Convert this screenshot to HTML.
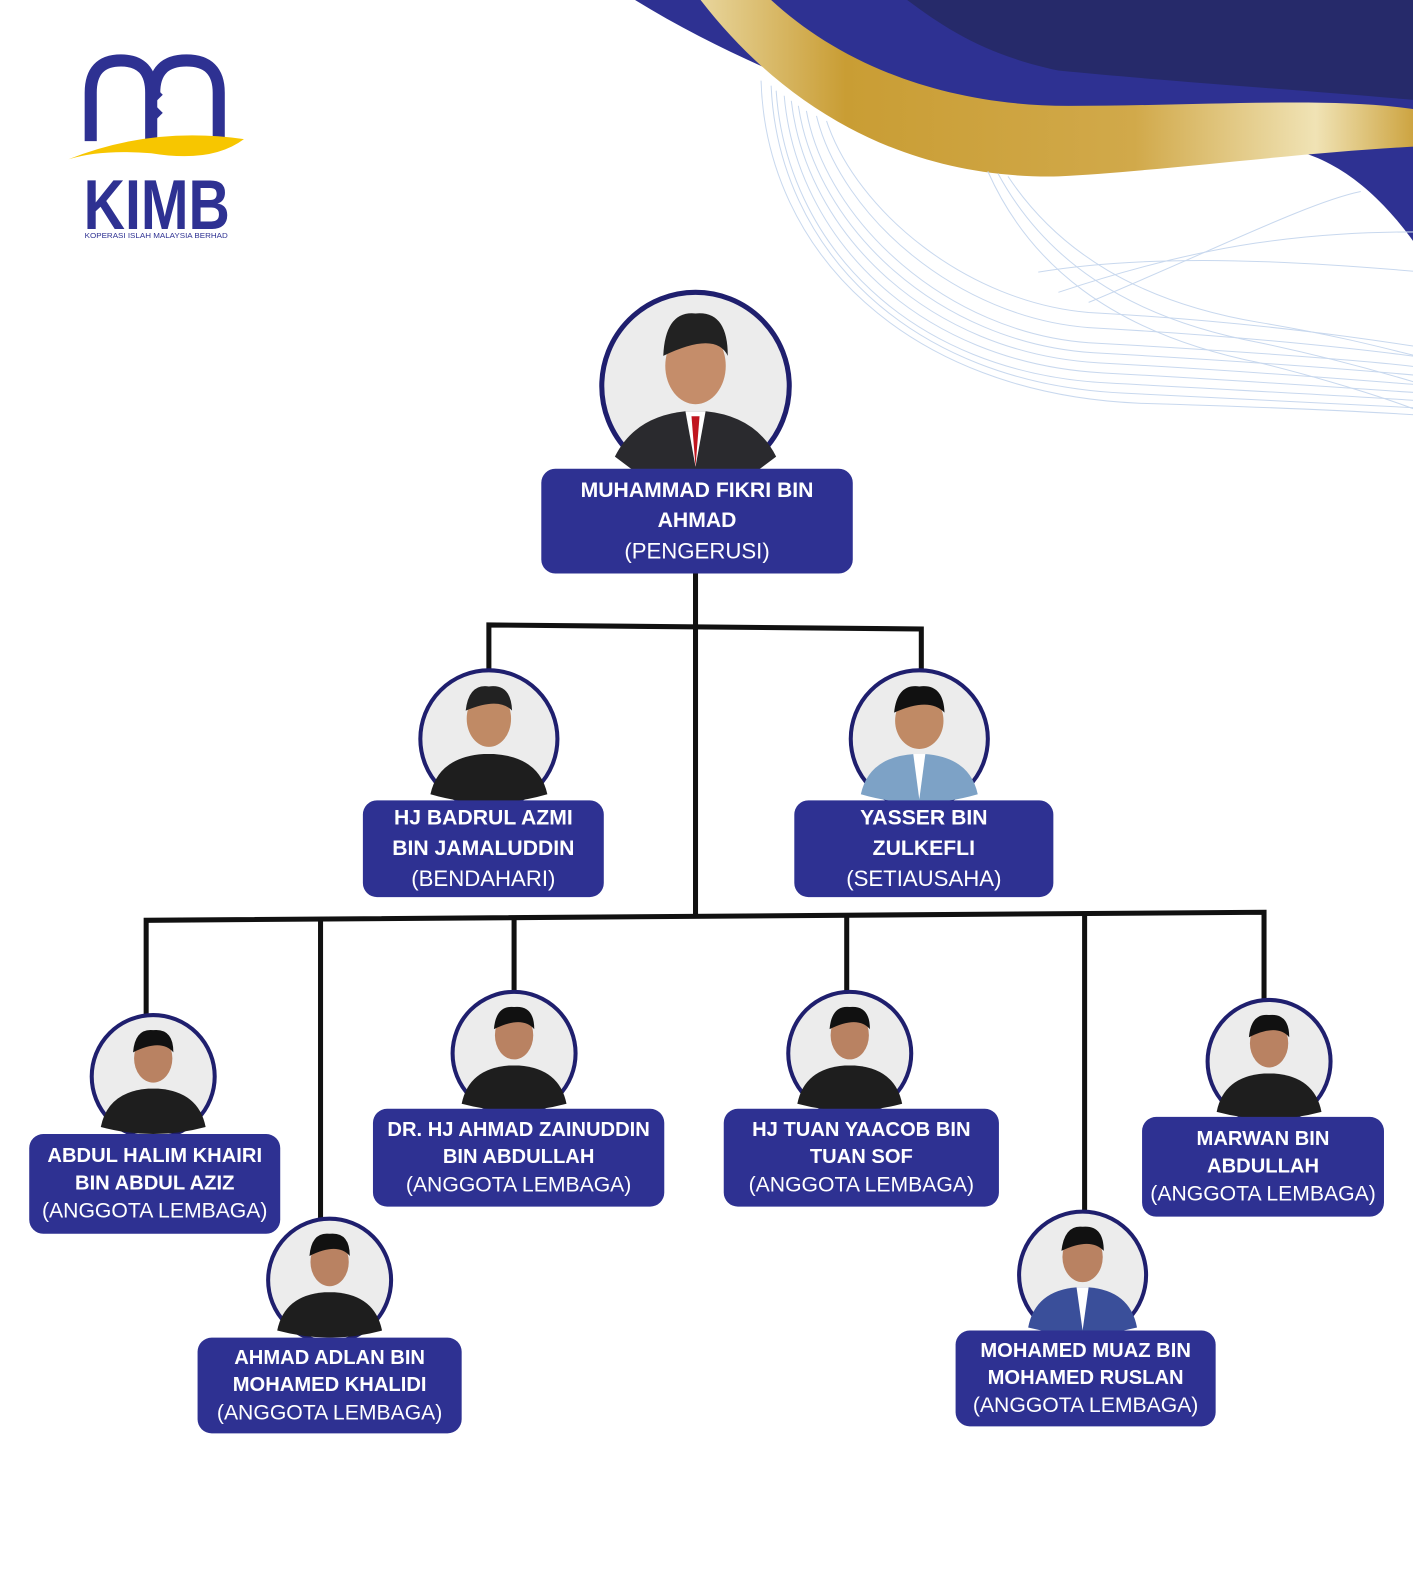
<!DOCTYPE html>
<html><head><meta charset="utf-8"><style>
html,body{margin:0;padding:0;background:#fff;}
body{width:1413px;height:1580px;position:relative;overflow:hidden;font-family:"Liberation Sans",sans-serif;}
#w{position:absolute;left:0;top:0;width:1413px;height:1580px;transform:scale(1.008);transform-origin:0 0;}
.box{position:absolute;background:#2e3192;color:#fff;border-radius:14px;text-align:center;box-sizing:border-box;display:flex;flex-direction:column;justify-content:center;}
.box b{font-size:21px;line-height:30px;font-weight:bold;}
.box span{font-size:22px;line-height:30px;font-weight:normal;}
.sm b{font-size:20px;line-height:27px;}
.sm span{font-size:21px;line-height:28px;}
</style></head><body><div id="w">
<svg width="1413" height="1580" style="position:absolute;left:0;top:0">
<defs>
<linearGradient id="g1" x1="0" y1="0" x2="1" y2="0">
<stop offset="0" stop-color="#e8d59c"/><stop offset="0.2" stop-color="#c99d34"/><stop offset="0.6" stop-color="#d1a94a"/><stop offset="0.85" stop-color="#f0e3b5"/><stop offset="1" stop-color="#c99d34"/>
</linearGradient>
</defs>
<path d="M630 0 L1413 0 L1413 255 C1370 190 1320 150 1260 145 L1000 165 C900 120 760 80 630 0Z" fill="#2e3192"/>
<path d="M900 0 L1413 0 L1413 100 C1300 90 1150 80 1050 70 C980 55 940 30 900 0Z" fill="#262a6a"/>
<path d="M695 0 L765 0 C830 60 930 105 1060 105 C1200 105 1330 95 1413 110 L1413 145 C1300 150 1150 170 1050 175 C900 178 780 110 695 0Z" fill="url(#g1)"/>
<g fill="none" stroke="#c8d8ee" stroke-width="1">
<path d="M755 80 C760 250 900 390 1130 400 C1300 405 1380 410 1413 412"/>
<path d="M765 85 C772 245 900 380 1115 390 C1290 398 1380 403 1413 405"/>
<path d="M770 90 C780 240 900 370 1100 380 C1280 390 1380 395 1413 398"/>
<path d="M778 95 C790 235 910 360 1095 370 C1275 380 1380 388 1413 390"/>
<path d="M785 100 C800 230 920 350 1090 360 C1270 370 1380 380 1413 382"/>
<path d="M792 105 C810 225 930 340 1085 350 C1265 360 1380 370 1413 373"/>
<path d="M800 110 C820 220 940 330 1080 340 C1260 350 1380 360 1413 365"/>
<path d="M810 115 C835 215 950 315 1080 325 C1260 335 1380 350 1413 355"/>
<path d="M820 120 C850 210 960 300 1080 310 C1260 320 1380 340 1413 345"/>
<path d="M980 170 C1020 260 1100 330 1250 360 C1330 380 1390 400 1413 410"/>
<path d="M990 172 C1035 255 1115 315 1250 340 C1335 358 1390 375 1413 382"/>
<path d="M1000 175 C1050 250 1130 300 1250 320 C1340 335 1390 350 1413 355"/>
<path d="M1080 300 C1200 250 1300 200 1350 190"/>
<path d="M1050 290 C1200 240 1300 230 1413 230"/>
<path d="M1030 270 C1150 250 1300 260 1413 270"/>
</g>
<!-- logo -->
<path d="M90 140 V92 Q90 60 120 60 Q150 60 150 92 V140" fill="none" stroke="#2e3192" stroke-width="12"/>
<path d="M153 92 Q153 60 185 60 Q217 60 217 92 V140" fill="none" stroke="#2e3192" stroke-width="12"/>
<rect x="147" y="88" width="12" height="12" transform="rotate(45 153 94)" fill="#2e3192"/>
<rect x="147" y="106" width="12" height="12" transform="rotate(45 153 112)" fill="#2e3192"/>
<path d="M68 158 Q150 125 242 138 Q210 162 150 152 Q100 148 68 158Z" fill="#f7c600"/>
<text x="83" y="227" font-family="Liberation Sans" font-weight="bold" font-size="70" fill="#2e3192" textLength="145" lengthAdjust="spacingAndGlyphs">KIMB</text>
<text x="84" y="236" font-family="Liberation Sans" font-size="7" fill="#2e3192" textLength="142" lengthAdjust="spacingAndGlyphs">KOPERASI ISLAH MALAYSIA BERHAD</text>
<g stroke="#111" stroke-width="5" fill="none">
<path d="M690 569 V910"/>
<path d="M485 665 V620 L914 624 V665"/>
<path d="M145 1010 V913 L1254 905 V993"/>
<path d="M318 911 V1210"/>
<path d="M510 910 V985"/>
<path d="M840 908 V985"/>
<path d="M1076 907 V1203"/>
</g>
<g transform="translate(690,383)">
<circle r="93" fill="#ececec" stroke="#1f1f6e" stroke-width="5"/>
<path d="M-80 70 Q-60 30 -10 25 L10 25 Q60 30 80 70 L60 85 Q0 95 -60 85Z" fill="#2a2a2e"/>
<path d="M-10 25 L0 80 L10 25Z" fill="#fff"/><path d="M-4 30 L0 80 L4 30Z" fill="#c0151f"/>
<ellipse cx="0" cy="-20" rx="30" ry="38" fill="#c58d6a"/><path d="M-32 -30 Q-30 -75 0 -72 Q32 -75 32 -30 Q20 -55 -32 -30Z" fill="#222"/>
</g>
<g transform="translate(485,733)">
<circle r="68" fill="#ececec" stroke="#1f1f6e" stroke-width="4"/>
<path d="M-58 55 Q-50 18 -5 15 L5 15 Q50 18 58 55 Q0 72 -58 55Z" fill="#1e1e1e"/>
<ellipse cx="0" cy="-20" rx="22" ry="28" fill="#c08a65"/><path d="M-23 -28 Q-20 -55 0 -52 Q22 -55 23 -28 Q10 -42 -23 -28Z" fill="#222"/>
</g>
<g transform="translate(912,733)">
<circle r="68" fill="#ececec" stroke="#1f1f6e" stroke-width="4"/>
<path d="M-58 55 Q-50 18 -5 15 L5 15 Q50 18 58 55 Q0 72 -58 55Z" fill="#7da2c6"/>
<path d="M-6 15 L0 60 L6 15Z" fill="#fff"/>
<ellipse cx="0" cy="-18" rx="24" ry="28" fill="#c08a65"/><path d="M-25 -26 Q-22 -55 0 -52 Q24 -55 25 -26 Q10 -42 -25 -26Z" fill="#111"/>
</g>
<g transform="translate(152,1068)"><circle r="61" fill="#ececec" stroke="#1f1f6e" stroke-width="4"/><path d="M-52 50 Q-45 15 -5 12 L5 12 Q45 15 52 50 Q0 64 -52 50Z" fill="#1e1e1e"/><ellipse cx="0" cy="-18" rx="19" ry="24" fill="#b98262"/><path d="M-20 -24 Q-18 -48 0 -46 Q20 -48 20 -24 Q8 -38 -20 -24Z" fill="#111"/></g>
<g transform="translate(327,1270)"><circle r="61" fill="#ececec" stroke="#1f1f6e" stroke-width="4"/><path d="M-52 50 Q-45 15 -5 12 L5 12 Q45 15 52 50 Q0 64 -52 50Z" fill="#1e1e1e"/><ellipse cx="0" cy="-18" rx="19" ry="24" fill="#b98262"/><path d="M-20 -24 Q-18 -48 0 -46 Q20 -48 20 -24 Q8 -38 -20 -24Z" fill="#111"/></g>
<g transform="translate(510,1045)"><circle r="61" fill="#ececec" stroke="#1f1f6e" stroke-width="4"/><path d="M-52 50 Q-45 15 -5 12 L5 12 Q45 15 52 50 Q0 64 -52 50Z" fill="#1e1e1e"/><ellipse cx="0" cy="-18" rx="19" ry="24" fill="#b98262"/><path d="M-20 -24 Q-18 -48 0 -46 Q20 -48 20 -24 Q8 -38 -20 -24Z" fill="#111"/></g>
<g transform="translate(843,1045)"><circle r="61" fill="#ececec" stroke="#1f1f6e" stroke-width="4"/><path d="M-52 50 Q-45 15 -5 12 L5 12 Q45 15 52 50 Q0 64 -52 50Z" fill="#1e1e1e"/><ellipse cx="0" cy="-18" rx="19" ry="24" fill="#b98262"/><path d="M-20 -24 Q-18 -48 0 -46 Q20 -48 20 -24 Q8 -38 -20 -24Z" fill="#111"/></g>
<g transform="translate(1259,1053)"><circle r="61" fill="#ececec" stroke="#1f1f6e" stroke-width="4"/><path d="M-52 50 Q-45 15 -5 12 L5 12 Q45 15 52 50 Q0 64 -52 50Z" fill="#1e1e1e"/><ellipse cx="0" cy="-18" rx="19" ry="24" fill="#b98262"/><path d="M-20 -24 Q-18 -48 0 -46 Q20 -48 20 -24 Q8 -38 -20 -24Z" fill="#111"/></g>
<g transform="translate(1074,1265)"><circle r="63" fill="#ececec" stroke="#1f1f6e" stroke-width="4"/><path d="M-54 52 Q-47 15 -5 12 L5 12 Q47 15 54 52 Q0 66 -54 52Z" fill="#3a4f9a"/><path d="M-6 12 L0 55 L6 12Z" fill="#fff"/><ellipse cx="0" cy="-18" rx="20" ry="25" fill="#b98262"/><path d="M-21 -24 Q-18 -50 0 -48 Q21 -50 21 -24 Q8 -38 -21 -24Z" fill="#111"/></g>
</svg>
<div class="box" style="left:537px;top:465px;width:309px;height:104px;"><b>MUHAMMAD FIKRI BIN<br>AHMAD</b><span>(PENGERUSI)</span></div>
<div class="box" style="left:360px;top:794px;width:239px;height:96px;"><b>HJ BADRUL AZMI<br>BIN JAMALUDDIN</b><span>(BENDAHARI)</span></div>
<div class="box" style="left:788px;top:794px;width:257px;height:96px;"><b>YASSER BIN<br>ZULKEFLI</b><span>(SETIAUSAHA)</span></div>
<div class="box sm" style="left:29px;top:1125px;width:249px;height:99px;"><b>ABDUL HALIM KHAIRI<br>BIN ABDUL AZIZ</b><span>(ANGGOTA LEMBAGA)</span></div>
<div class="box sm" style="left:196px;top:1327px;width:262px;height:95px;"><b>AHMAD ADLAN BIN<br>MOHAMED KHALIDI</b><span>(ANGGOTA LEMBAGA)</span></div>
<div class="box sm" style="left:370px;top:1100px;width:289px;height:97px;"><b>DR. HJ AHMAD ZAINUDDIN<br>BIN ABDULLAH</b><span>(ANGGOTA LEMBAGA)</span></div>
<div class="box sm" style="left:718px;top:1100px;width:273px;height:97px;"><b>HJ TUAN YAACOB BIN<br>TUAN SOF</b><span>(ANGGOTA LEMBAGA)</span></div>
<div class="box sm" style="left:1133px;top:1108px;width:240px;height:99px;"><b>MARWAN BIN<br>ABDULLAH</b><span>(ANGGOTA LEMBAGA)</span></div>
<div class="box sm" style="left:948px;top:1320px;width:258px;height:95px;"><b>MOHAMED MUAZ BIN<br>MOHAMED RUSLAN</b><span>(ANGGOTA LEMBAGA)</span></div>
</div></body></html>
